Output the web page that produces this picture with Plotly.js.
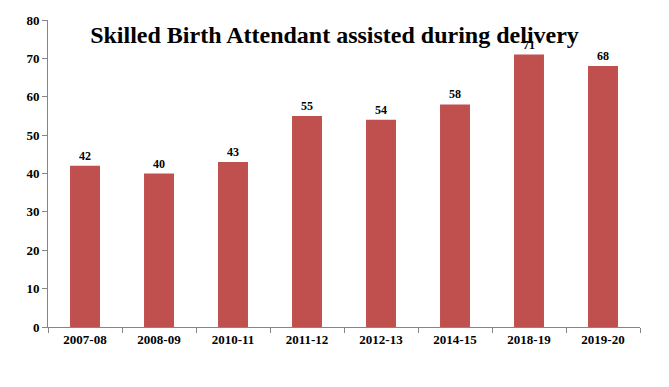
<!DOCTYPE html>
<html>
<head>
<meta charset="utf-8">
<script src="https://cdn.plot.ly/plotly-3.0.1.min.js"></script>
<style>html,body{margin:0;padding:0;background:#fff}#chart{width:669px;height:387px}</style>
</head>
<body>
<div id="chart"></div>
<script>
const categories = ["2007-08","2008-09","2010-11","2011-12","2012-13","2014-15","2018-19","2019-20"];
const values = [42, 40, 43, 55, 54, 58, 71, 68];
const titleText = "Skilled Birth Attendant assisted during delivery";

const serif = "Liberation Serif, Times New Roman, serif";
Plotly.newPlot("chart", [{
  type: "bar",
  x: categories,
  y: values,
  text: values.map(String),
  textposition: "outside",
  cliponaxis: false,
  textfont: {family: serif, size: 12, color: "#000", weight: "bold"},
  marker: {color: "#C0504D"},
  hoverinfo: "none"
}], {
  width: 669, height: 387,
  margin: {l: 48, r: 29, t: 20, b: 60},
  paper_bgcolor: "#fff", plot_bgcolor: "#fff",
  bargap: 0.595,
  showlegend: false,
  title: {text: "<b>" + titleText + "</b>", font: {family: serif, size: 24, color: "#000"},
          x: 0.5, xref: "container", y: 0.91, yref: "container", yanchor: "middle"},
  xaxis: {
    type: "category",
    showline: true, linecolor: "#868686", linewidth: 1,
    ticks: "outside", tickson: "boundaries", ticklen: 5, tickcolor: "#868686",
    showgrid: false, zeroline: false,
    tickfont: {family: serif, size: 13, color: "#000", weight: "bold"}
  },
  yaxis: {
    range: [0, 80], dtick: 10, tick0: 0,
    showline: true, linecolor: "#868686", linewidth: 1,
    ticks: "outside", ticklen: 5, tickcolor: "#868686",
    showgrid: false, zeroline: false,
    tickfont: {family: serif, size: 13, color: "#000", weight: "bold"}
  }
}, {displayModeBar: false, staticPlot: true});
</script>
</body>
</html>
